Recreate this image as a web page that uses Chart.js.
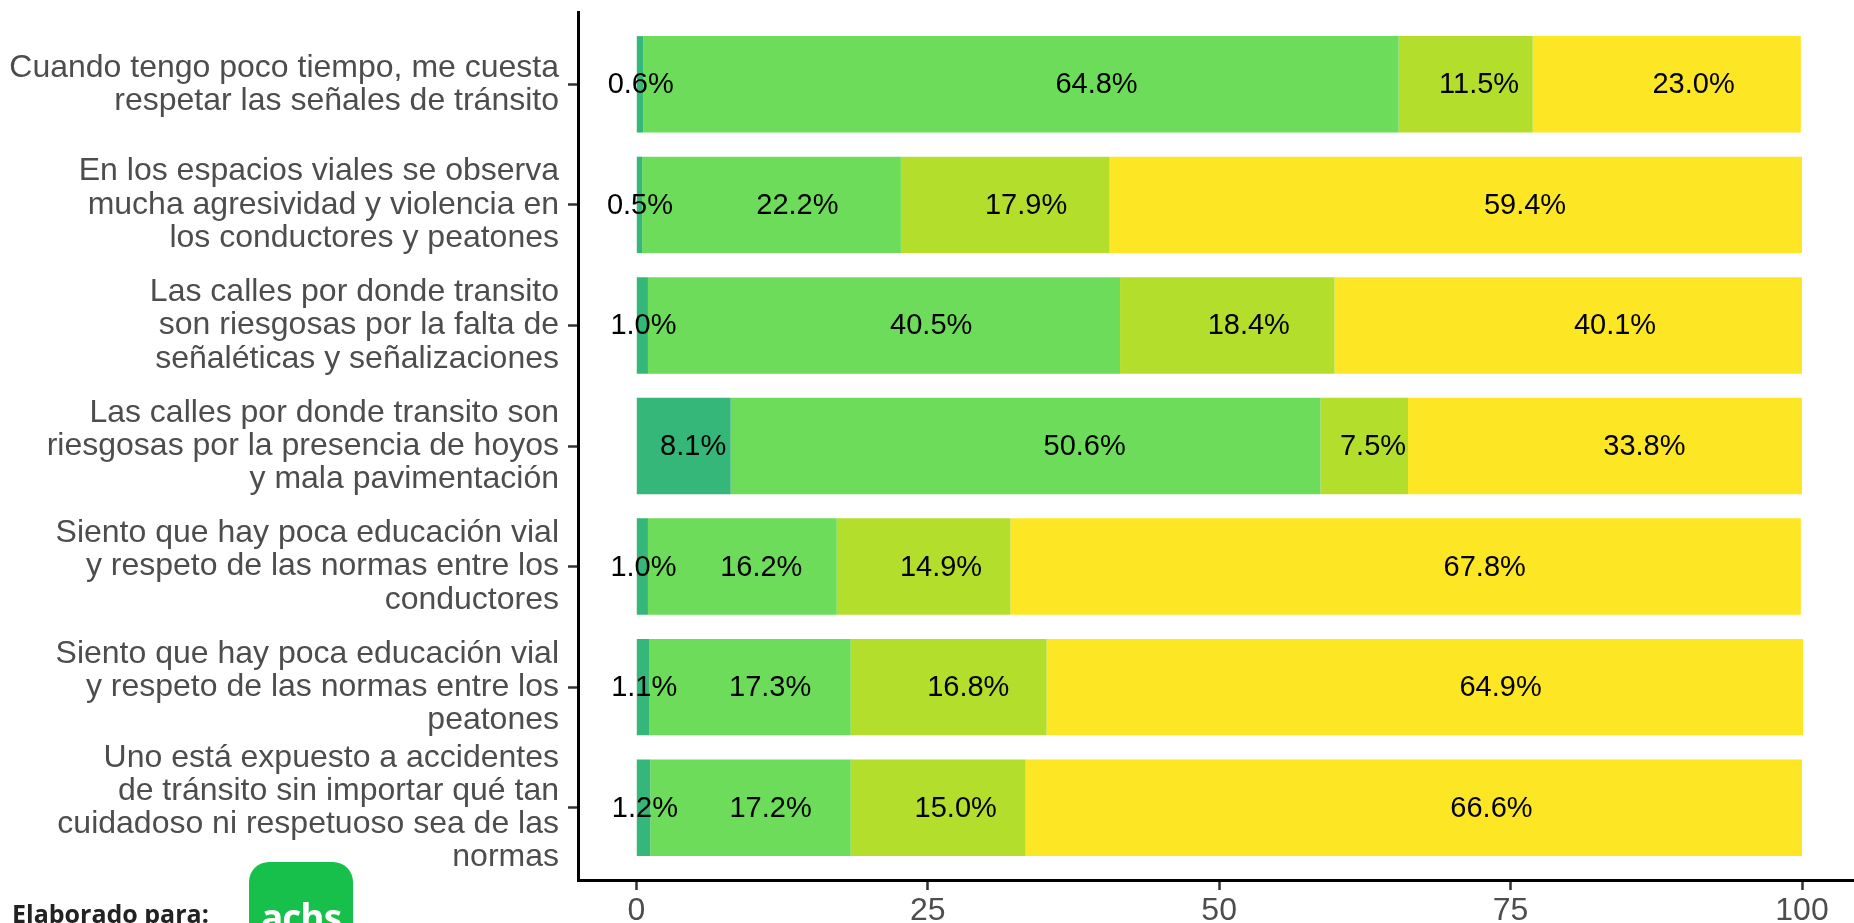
<!DOCTYPE html>
<html lang="es">
<head>
<meta charset="utf-8">
<title>Percepción vial</title>
<script src="https://cdn.jsdelivr.net/npm/chart.js@4.4.1/dist/chart.umd.min.js"></script>
<style>
  html, body { margin: 0; padding: 0; background: #fff; overflow: hidden; }
  #wrap { position: relative; width: 1854px; height: 923px; }
  #footer-text {
    position: absolute; left: 12px; top: 901px;
    font: bold 25px "Open Sans", "Noto Sans", sans-serif; line-height: 1;
    color: #222;
  }
  #logo {
    position: absolute; left: 249px; top: 862px; width: 104px; height: 90px;
    background: #16c04a; border-radius: 20px;
  }
  #logo span {
    position: absolute; left: 0; right: 0; top: 36px; text-align: center;
    font: bold 37px "Open Sans", "Noto Sans", sans-serif; line-height: 1;
    color: #fff; letter-spacing: -1px;
  }
</style>
</head>
<body>
<div id="wrap">
  <canvas id="chart"></canvas>
  <div id="footer-text">Elaborado para:</div>
  <div id="logo"><span>achs</span></div>
</div>
<script>
// ** DATA **
const categories = [
  ["Cuando tengo poco tiempo, me cuesta", "respetar las señales de tránsito"],
  ["En los espacios viales se observa", "mucha agresividad y violencia en", "los conductores y peatones"],
  ["Las calles por donde transito", "son riesgosas por la falta de", "señaléticas y señalizaciones"],
  ["Las calles por donde transito son", "riesgosas por la presencia de hoyos", "y mala pavimentación"],
  ["Siento que hay poca educación vial", "y respeto de las normas entre los", "conductores"],
  ["Siento que hay poca educación vial", "y respeto de las normas entre los", "peatones"],
  ["Uno está expuesto a accidentes", "de tránsito sin importar qué tan", "cuidadoso ni respetuoso sea de las", "normas"],
];

const seriesNames = ["Muy en desacuerdo", "En desacuerdo", "De acuerdo", "Muy de acuerdo"];
const level1 = [0.6, 0.5, 1.0, 8.1, 1.0, 1.1, 1.2];
const level2 = [64.8, 22.2, 40.5, 50.6, 16.2, 17.3, 17.2];
const level3 = [11.5, 17.9, 18.4, 7.5, 14.9, 16.8, 15.0];
const level4 = [23.0, 59.4, 40.1, 33.8, 67.8, 64.9, 66.6];
const xTicks = [0, 25, 50, 75, 100];

const colors = ["#35B779", "#6DDC5A", "#B4DE2C", "#FDE725"];
const axisFont = { family: "'Liberation Sans', Arial, sans-serif", size: 32 };

// labels drawn on top of all bars; the original places them at 60% of each segment
const labelAnchor = 0.6;
const barLabels = {
  id: "barLabels",
  afterDatasetsDraw(chart) {
    const ctx = chart.ctx;
    ctx.save();
    ctx.font = "29px 'Liberation Sans', Arial, sans-serif";
    ctx.fillStyle = "#000";
    ctx.textAlign = "center";
    ctx.textBaseline = "middle";
    chart.data.datasets.forEach((ds, i) => {
      chart.getDatasetMeta(i).data.forEach((bar, j) => {
        const cx = bar.base + (bar.x - bar.base) * labelAnchor;
        ctx.fillText(ds.data[j].x.toFixed(1) + "%", cx, bar.y + 1);
      });
    });
    ctx.restore();
  },
};

const series = [level1, level2, level3, level4];
const datasets = series.map((vals, i) => ({
  label: seriesNames[i],
  data: vals.map((v, j) => ({ x: v, y: j })),
  backgroundColor: colors[i],
  borderWidth: 0,
  barPercentage: 0.8,
  categoryPercentage: 1,
}));

new Chart(document.getElementById("chart"), {
  type: "bar",
  data: { datasets },
  options: {
    indexAxis: "y",
    responsive: true,
    maintainAspectRatio: false,
    animation: false,
    layout: { padding: { top: 12, left: 0, right: 0, bottom: 0 } },
    plugins: { legend: { display: false }, tooltip: { enabled: false } },
    scales: {
      x: {
        type: "linear",
        stacked: true,
        offset: false,
        min: -5,
        max: 104.46,
        afterBuildTicks: (scale) => { scale.ticks = xTicks.map((v) => ({ value: v })); },
        afterFit: (scale) => {
          scale.height = 43;
          scale.paddingLeft = 0;
          scale.paddingRight = 0;
        },
        grid: { offset: false, drawOnChartArea: false, drawTicks: true, tickLength: 10, tickWidth: 2.5, tickColor: "#333" },
        border: { display: true, color: "#000", width: 3 },
        ticks: { font: axisFont, color: "#4d4d4d", padding: 2, maxRotation: 0, autoSkip: false },
      },
      y: {
        type: "linear",
        stacked: true,
        reverse: true,
        offset: false,
        min: -0.6,
        max: 6.6,
        afterBuildTicks: (scale) => { scale.ticks = categories.map((c, i) => ({ value: i })); },
        afterFit: (scale) => {
          scale.width = 578;
          scale.paddingTop = 0;
          scale.paddingBottom = 0;
        },
        grid: { offset: false, drawOnChartArea: false, drawTicks: true, tickLength: 10, tickWidth: 2.5, tickColor: "#333" },
        border: { display: true, color: "#000", width: 3 },
        ticks: {
          font: { ...axisFont, lineHeight: 1.04 },
          color: "#4d4d4d",
          padding: 9,
          autoSkip: false,
          callback: (v) => categories[v],
        },
      },
    },
  },
  plugins: [barLabels],
});
</script>
</body>
</html>
